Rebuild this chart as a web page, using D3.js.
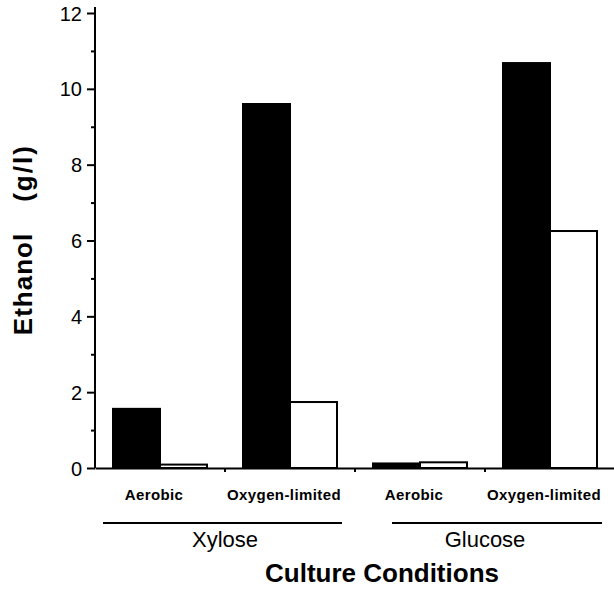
<!DOCTYPE html>
<html>
<head>
<meta charset="utf-8">
<script src="https://cdn.jsdelivr.net/npm/d3@7"></script>
<style>
body { margin: 0; background: #fff; }
text { font-family: "Liberation Sans", Arial, sans-serif; fill: #000; }
</style>
</head>
<body>
<svg></svg>
<script>
var screen = {width: 614, height: 596};
var margins = {top: 13, right: 0, bottom: 128, left: 95};

// data
var conditions = ["Aerobic", "Oxygen-limited", "Aerobic", "Oxygen-limited"];
var sugars = ["Xylose", "Xylose", "Glucose", "Glucose"];
var groups = ["Xylose", "Glucose"];
var blackValues = [1.56, 9.6, 0.12, 10.68];
var whiteValues = [0.09, 1.74, 0.15, 6.25];
var majorTicks = [0, 2, 4, 6, 8, 10, 12];
var minorTicks = [1, 3, 5, 7, 9, 11];

var svg = d3.select("svg")
    .attr("width", screen.width)
    .attr("height", screen.height);

var width = screen.width - margins.left - margins.right;
var height = screen.height - margins.top - margins.bottom;

var graph = svg.append("g")
    .attr("transform", "translate(" + margins.left + "," + margins.top + ")");

var keys = d3.range(conditions.length);

var xScale = d3.scaleBand()
    .domain(keys)
    .range([0, width + 1]);

var inner = d3.scaleBand()
    .domain(["black", "white"])
    .range([18, xScale.bandwidth() - 18]);

var yScale = d3.scaleLinear()
    .domain([0, 12])
    .range([height, 0]);

var bars = keys.map(function(i)
{
    return [
        {key: i, s: "black", v: blackValues[i]},
        {key: i, s: "white", v: whiteValues[i]}
    ];
});

graph.selectAll("g.cat")
    .data(bars)
    .enter()
    .append("g")
    .attr("class", "cat")
    .attr("transform", function(d, i){return "translate(" + xScale(i) + ",0)";})
    .selectAll("rect")
    .data(function(d){return d;})
    .enter()
    .append("rect")
    .attr("x", function(d){return inner(d.s);})
    .attr("width", inner.bandwidth())
    .attr("y", function(d){return yScale(d.v);})
    .attr("height", function(d){return height - yScale(d.v);})
    .attr("fill", function(d){return d.s == "black" ? "#000" : "#fff";})
    .attr("stroke", "#000")
    .attr("stroke-width", 2);

// y axis
var yAxis = d3.axisLeft(yScale)
    .tickValues(majorTicks)
    .tickSize(8)
    .tickSizeOuter(0)
    .tickPadding(5)
    .tickFormat(d3.format("d"));

var yMinor = d3.axisLeft(yScale)
    .tickValues(minorTicks)
    .tickSize(4)
    .tickSizeOuter(0)
    .tickFormat("");

var ya = graph.append("g").call(yAxis);
graph.append("g").call(yMinor);

graph.selectAll(".domain").remove();
graph.append("line")
    .attr("x1", 0).attr("x2", 0)
    .attr("y1", yScale(0)).attr("y2", yScale(12) - 6)
    .attr("stroke", "#000").attr("stroke-width", 2);

svg.selectAll(".tick line").attr("stroke-width", 2);
ya.selectAll("text")
    .style("font-size", "20px")
    .attr("dy", "0.35em");

// x axis
var xAxis = d3.axisBottom(xScale)
    .tickValues(keys.slice(1))
    .tickSize(4)
    .tickSizeOuter(0)
    .tickFormat("");

var xa = graph.append("g")
    .attr("transform", "translate(0," + height + ")")
    .call(xAxis);
xa.selectAll(".tick")
    .attr("transform", function(d){return "translate(" + xScale(d) + ",0)";});
xa.select(".domain").attr("stroke-width", 2);
xa.selectAll(".tick line").attr("stroke-width", 2);

graph.selectAll("text.cond")
    .data(conditions)
    .enter()
    .append("text")
    .attr("class", "cond")
    .attr("x", function(d, i){return xScale(i) + xScale.bandwidth() / 2 - 6;})
    .attr("y", height + 32)
    .attr("text-anchor", "middle")
    .style("font-size", "15px")
    .style("font-weight", "bold")
    .style("letter-spacing", "0.4px")
    .text(function(d){return d;});

// group labels with underlines
var groupSpan = groups.map(function(g)
{
    var idx = keys.filter(function(i){return sugars[i] == g;});
    return {
        name: g,
        x0: xScale(idx[0]),
        x1: xScale(idx[idx.length - 1]) + xScale.bandwidth()
    };
});

graph.selectAll("line.grp")
    .data(groupSpan)
    .enter()
    .append("line")
    .attr("class", "grp")
    .attr("x1", function(d, i){return d.x0 + (i == 0 ? 8 : 37);})
    .attr("x2", function(d){return d.x1 - 13;})
    .attr("y1", height + 55)
    .attr("y2", height + 55)
    .attr("stroke", "#000")
    .attr("stroke-width", 2);

graph.selectAll("text.grp")
    .data(groupSpan)
    .enter()
    .append("text")
    .attr("class", "grp")
    .attr("x", function(d){return (d.x0 + d.x1) / 2;})
    .attr("y", height + 79)
    .attr("text-anchor", "middle")
    .style("font-size", "22px")
    .text(function(d){return d.name;});

svg.append("text")
    .attr("x", 382)
    .attr("y", 582)
    .attr("text-anchor", "middle")
    .style("font-size", "26px")
    .style("font-weight", "bold")
    .text("Culture Conditions");

svg.append("text")
    .attr("transform", "translate(32,284) rotate(-90)")
    .attr("text-anchor", "middle")
    .style("font-size", "26px")
    .style("font-weight", "bold")
    .style("letter-spacing", "1px")
    .text("Ethanol");

svg.append("text")
    .attr("transform", "translate(32,173) rotate(-90)")
    .attr("text-anchor", "middle")
    .style("font-size", "26px")
    .style("font-weight", "bold")
    .style("letter-spacing", "2px")
    .text("(g/l)");
</script>
</body>
</html>
